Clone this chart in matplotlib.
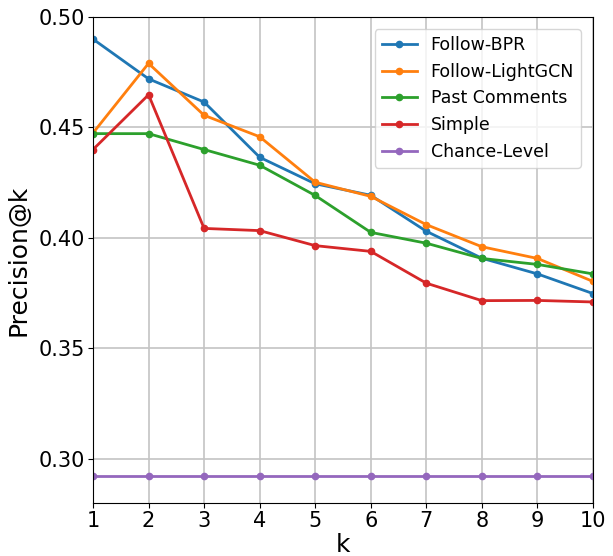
import matplotlib
matplotlib.use('Agg')
import matplotlib.pyplot as plt

k = [1, 2, 3, 4, 5, 6, 7, 8, 9, 10]
follow_bpr = [0.490, 0.472, 0.4615, 0.4365, 0.4245, 0.4193, 0.403, 0.3908, 0.3837, 0.3748]
follow_lightgcn = [0.4475, 0.479, 0.4555, 0.4458, 0.4252, 0.4188, 0.406, 0.396, 0.3907, 0.3803]
past_comments = [0.4472, 0.4472, 0.440, 0.4329, 0.4192, 0.4025, 0.3976, 0.3907, 0.388, 0.3837]
simple = [0.440, 0.4648, 0.4043, 0.4033, 0.3965, 0.3939, 0.3795, 0.3716, 0.3717, 0.371]
chance_level = [0.2922] * 10

fig = plt.figure(figsize=(6.13, 5.56), dpi=100)
ax = fig.add_axes([93/613, 1-503/556, 500/613, 486/556])
ax.plot(k, follow_bpr, 'o-', markersize=4.5, linewidth=2, label='Follow-BPR')
ax.plot(k, follow_lightgcn, 'o-', markersize=4.5, linewidth=2, label='Follow-LightGCN')
ax.plot(k, past_comments, 'o-', markersize=4.5, linewidth=2, label='Past Comments')
ax.plot(k, simple, 'o-', markersize=4.5, linewidth=2, label='Simple')
ax.plot(k, chance_level, 'o-', markersize=4.5, linewidth=2, label='Chance-Level')
ax.set_xlim(1, 10)
ax.set_ylim(0.28, 0.50)
ax.set_xticks(k)
ax.set_yticks([0.30, 0.35, 0.40, 0.45, 0.50])
ax.grid(True, color='#c4c4c4', linewidth=1.2)
ax.tick_params(labelsize=15, pad=2)
ax.set_xlabel('k', fontsize=18, labelpad=2)
ax.set_ylabel('Precision@k', fontsize=18, labelpad=6)
ax.legend(fontsize=12.5, loc='upper right', borderaxespad=0.7)
fig.savefig('out.png')
